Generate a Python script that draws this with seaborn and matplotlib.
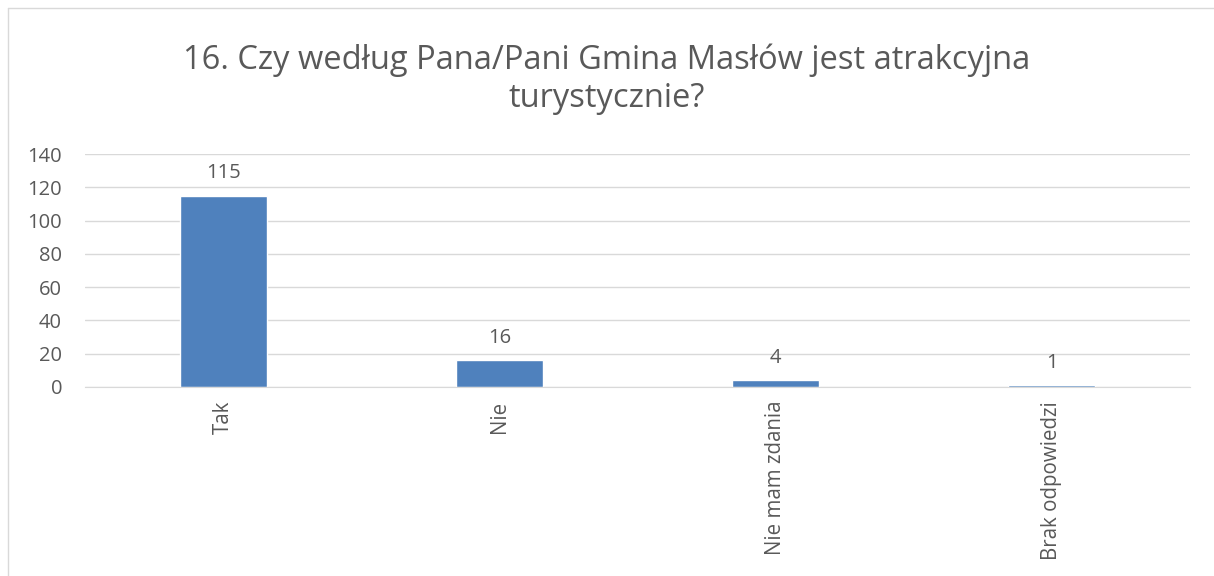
import matplotlib.pyplot as plt
import seaborn as sns
import pandas as pd

categories = ['Tak', 'Nie', 'Nie mam zdania', 'Brak odpowiedzi']
counts = [115, 16, 4, 1]
title = '16. Czy według Pana/Pani Gmina Masłów jest atrakcyjna\nturystycznie?'

df = pd.DataFrame({'Odpowiedź': categories, 'Liczba': counts})

sns.set_style('white')
plt.rcParams['font.family'] = ['Open Sans', 'DejaVu Sans']
text_color = '#595959'

fig = plt.figure(figsize=(12.14, 5.76), dpi=100)
ax = fig.add_axes([85 / 1214, 1 - 387 / 576, (1190 - 85) / 1214, (387 - 154) / 576])

sns.barplot(data=df, x='Odpowiedź', y='Liczba', color='#4F81BD', width=0.315,
            saturation=1, ax=ax)

ax.set_ylim(0, 140)
ax.set_yticks(range(0, 141, 20))
ax.set_xlim(-0.5, len(categories) - 0.5)
ax.yaxis.grid(True, color='#D9D9D9', linewidth=1)
ax.set_axisbelow(True)
for s in ['top', 'right', 'left']:
    ax.spines[s].set_visible(False)
ax.spines['bottom'].set_color('#D9D9D9')
ax.tick_params(axis='y', length=0, labelsize=14.5, labelcolor=text_color, pad=16.5)
ax.tick_params(axis='x', length=0, labelsize=14.8, labelcolor=text_color, pad=10)
plt.setp(ax.get_xticklabels(), rotation=90, va='top', ha='center')
ax.set_xlabel('')
ax.set_ylabel('')

for c in ax.containers:
    ax.bar_label(c, labels=[str(v) for v in counts], padding=9, fontsize=14.5, color=text_color)

fig.text(0.5, 1 - 79 / 576, title, ha='center', va='center', fontsize=23.5,
         color=text_color, linespacing=1.2)

# chart border (left and top visible)
fig.add_artist(plt.Line2D([8 / 1214, 8 / 1214], [0, 1 - 8 / 576], color='#D9D9D9', lw=1))
fig.add_artist(plt.Line2D([8 / 1214, 1], [1 - 8 / 576, 1 - 8 / 576], color='#D9D9D9', lw=1))

fig.savefig('out.png', dpi=100)
